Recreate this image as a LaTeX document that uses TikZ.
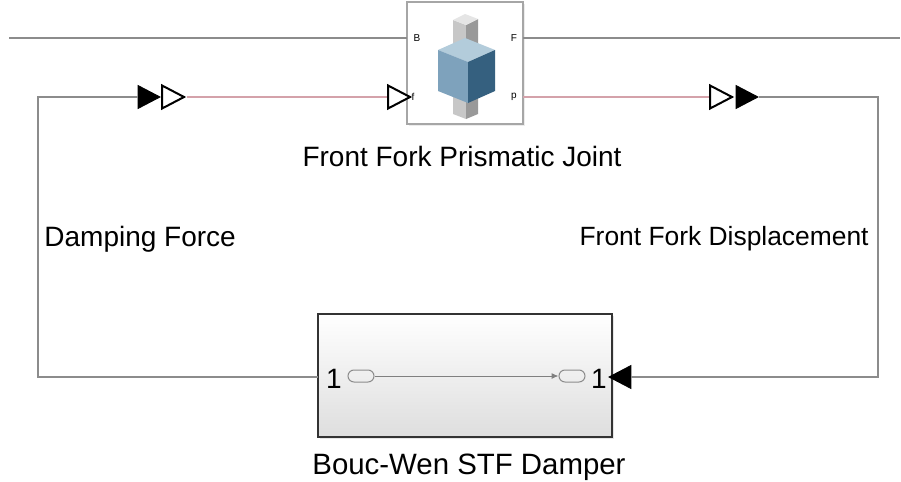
\documentclass[tikz,border=0pt]{standalone}
\usepackage{fontspec}
\setmainfont{Liberation Sans}
\usepackage{xcolor}
\definecolor{sigpink}{HTML}{D4A2AA}
\definecolor{wire}{HTML}{8C8C8C}
\definecolor{cubetop}{HTML}{B3CCDB}
\definecolor{cubeleft}{HTML}{7EA2BC}
\definecolor{cuberight}{HTML}{35607F}
\usetikzlibrary{shapes.geometric,shapes.misc,shadows,arrows.meta,positioning}

\tikzset{
  conn/.style={wire,line width=0.6pt},
  psconn/.style={sigpink,line width=0.6pt},
  fulltri/.style={isosceles triangle,isosceles triangle stretches,minimum width=11.5pt,minimum height=11pt,inner sep=0pt,fill=black,draw=black},
  opentri/.style={fulltri,fill=white,line width=1pt},
  portlbl/.style={font=\fontsize{5}{6}\selectfont,inner sep=0pt},
  lbl/.style={font=\fontsize{14}{16}\selectfont,inner sep=0pt},
  oval/.style={rounded rectangle,draw=black!45,line width=0.5pt,minimum width=13pt,minimum height=6pt,inner sep=0pt},
}

\begin{document}
\begin{tikzpicture}[x=0.5pt,y=-0.5pt]
  \useasboundingbox (0,0) rectangle (901,482);

  % prismatic joint block
  \node[draw=black!35,fill=white,line width=0.6pt,minimum width=58pt,minimum height=61pt,inner sep=0pt,
        drop shadow={opacity=0.15,shadow xshift=0.8pt,shadow yshift=-0.8pt}](jt) at (465,63) {};
  \begin{scope}
    % upper rod
    \fill[black!22] (453,20) -- (466,25) -- (466,55) -- (453,50) -- cycle;
    \fill[black!40] (466,25) -- (478,19) -- (478,50) -- (466,55) -- cycle;
    \fill[black!10] (453,20) -- (465,14) -- (478,19) -- (466,25) -- cycle;
    % lower rod
    \fill[black!22] (453,95) -- (466,100) -- (466,119) -- (453,114) -- cycle;
    \fill[black!40] (466,100) -- (478,95) -- (478,114) -- (466,119) -- cycle;
    % slider
    \fill[cubetop] (438,50) -- (465,38) -- (495,50) -- (468,62) -- cycle;
    \fill[cubeleft] (438,50) -- (468,62) -- (468,103) -- (438,91) -- cycle;
    \fill[cuberight] (468,62) -- (495,50) -- (495,91) -- (468,103) -- cycle;
  \end{scope}
  \node[portlbl](lB) at (417,38) {B};
  \node[portlbl](lf) at (413,97) {f};
  \node[portlbl](lF) at (514,38) {F};
  \node[portlbl](lp) at (514,97) {p};
  \coordinate (pB) at (407,38);
  \coordinate (pF) at (523,38);
  \coordinate (pp) at (523,97);
  \node[lbl](jtname) at (462,156) {Front Fork Prismatic Joint};

  % damper subsystem
  \node[draw=black!80,line width=0.8pt,top color=white,middle color=white,bottom color=black!13,
        minimum width=147pt,minimum height=61.5pt,inner sep=0pt,
        drop shadow={opacity=0.2,shadow xshift=1pt,shadow yshift=-1pt}](bw) at (465,375.5) {};
  \node[lbl](in1) at (334,379) {1};
  \node[oval](oin) at (361,376) {};
  \node[oval](oout) at (572,376) {};
  \node[lbl](out1) at (599,379) {1};
  \draw[black!50,line width=0.5pt,-{Latex[length=3.5pt,width=3pt]}] (oin.east) -- (oout.west);
  \node[lbl,font=\fontsize{14.7}{17}\selectfont](bwname) at (469,467) {Bouc-Wen STF Damper};

  % ports on the signal lines
  \node[fulltri](dfin) at (145,97) {};
  \node[opentri](dfout) at (169,97) {};
  \node[opentri](fin) at (395,97) {};
  \node[opentri](fdout) at (717,97) {};
  \node[fulltri](fdin) at (743,97) {};
  \node[fulltri,shape border rotate=180](bwarr) at (624,377) {};

  \coordinate (lend) at (9,38);
  \coordinate (rend) at (900,38);
  \coordinate (bwL) at (318,377);
  \coordinate (ll) at (38,377);
  \coordinate (rr) at (878,377);

  % connections
  \draw[conn] (lend) -- (pB);
  \draw[conn] (pF) -- (rend);
  \draw[conn] (bwL) -- (ll) |- (dfin.west);
  \draw[psconn] (dfout.east) -- (fin.west);
  \draw[psconn] (pp) -- (fdout.west);
  \draw[conn] (fdin.east) -| (rr) -- (bwarr.east);

  \node[lbl,anchor=west](dflbl) at (44,239) {Damping Force};
  \node[lbl,font=\fontsize{13.2}{15}\selectfont,anchor=east](fdlbl) at (869,239) {Front Fork Displacement};
\end{tikzpicture}
\end{document}
